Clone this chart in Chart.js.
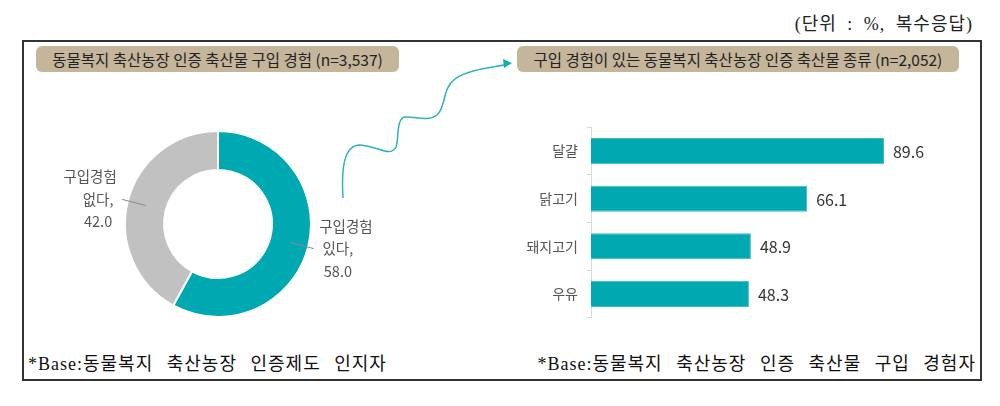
<!DOCTYPE html>
<html>
<head>
<meta charset="utf-8">
<script src="https://cdn.jsdelivr.net/npm/chart.js@4"></script>
<style>
  body { margin: 0; width: 1000px; height: 406px; background: #fff; position: relative; overflow: hidden;
         font-family: "Noto Sans CJK KR", "Noto Sans", sans-serif; }
  .frame { position: absolute; left: 22px; top: 40px; width: 960px; height: 341px; box-sizing: border-box; border: 2px solid #333; }
  .tag { position: absolute; top: 46px; height: 26px; line-height: 26px; background: #c4b59b; border-radius: 6px;
         color: #222; font-size: 15.5px; text-align: center; white-space: nowrap; }
  .unit { position: absolute; right: 27px; top: 9px; font-family: "Liberation Serif", "Noto Sans CJK KR", serif; font-size: 18px; color: #222; word-spacing: 5px; letter-spacing: 1px; }
  .base { position: absolute; top: 349px; font-family: "Liberation Serif", "Noto Sans CJK KR", serif; font-size: 18px; color: #111; word-spacing: 8px; letter-spacing: 1px; white-space: nowrap; }
  canvas { position: absolute; }
  svg { position: absolute; left: 0; top: 0; }
</style>
</head>
<body>
<div class="unit">(단위 : %, 복수응답)</div>
<div class="frame"></div>
<div class="tag" style="left:36px;width:363px;">동물복지 축산농장 인증 축산물 구입 경험 (n=3,537)</div>
<div class="tag" style="left:517px;width:442px;">구입 경험이 있는 동물복지 축산농장 인증 축산물 종류 (n=2,052)</div>
<svg width="1000" height="406">
  <path d="M343,198 C341,165 345,145 360,145 C378,146 390,158 396,147 C399,140 396,118 405,117 C415,116 428,122 437,115 C446,108 442,88 455,79 C468,70 488,68 504,65" fill="none" stroke="#2fb3ba" stroke-width="1.5"/>
  <path d="M512,63 L503,59 L504,68 Z" fill="#1aaab2"/>
</svg>
<canvas id="pie" style="left:30px;top:110px;" width="440" height="230"></canvas>
<canvas id="bar" style="left:500px;top:110px;" width="480" height="225"></canvas>
<div class="base" style="left:28px;">*Base:동물복지 축산농장 인증제도 인지자</div>
<div class="base" style="right:24px;">*Base:동물복지 축산농장 인증 축산물 구입 경험자</div>
<script>
const pieLabels = [["구입경험", "있다,"], ["구입경험", "없다,"]];
const pieValues = [58.0, 42.0];
const pieColors = ["#00a9b1", "#c1c1c1"];

const barLabels = ["달걀", "닭고기", "돼지고기", "우유"];
const barValues = [89.6, 66.1, 48.9, 48.3];

const FONT = '"Noto Sans CJK KR", "Noto Sans", sans-serif';

// leader lines + labels for doughnut
const pieLabelPlugin = {
  id: "pieLabels",
  afterDatasetsDraw(chart) {
    const ctx = chart.ctx;
    const meta = chart.getDatasetMeta(0);
    ctx.save();
    ctx.font = "14.5px " + FONT;
    ctx.fillStyle = "#555";
    ctx.strokeStyle = "#8a8a8a";
    ctx.lineWidth = 1;
    meta.data.forEach((arc, i) => {
      const mid = (arc.startAngle + arc.endAngle) / 2;
      const cx = arc.x, cy = arc.y;
      const r1 = arc.outerRadius * 0.8, r2 = arc.outerRadius + 6;
      const x1 = cx + Math.cos(mid) * r1, y1 = cy + Math.sin(mid) * r1;
      const x2 = cx + Math.cos(mid) * r2, y2 = cy + Math.sin(mid) * r2;
      ctx.beginPath();
      ctx.moveTo(x1, y1);
      ctx.lineTo(x2, y2);
      ctx.stroke();
      const dir = Math.cos(mid) > 0 ? 1 : -1;
      const lines = pieLabels[i].concat([pieValues[i].toFixed(1)]);
      ctx.textBaseline = "middle";
      ctx.textAlign = "center";
      lines.forEach((t, k) => {
        const y = y2 + (k - 1) * 22.5;
        ctx.fillText(t, x2 + dir * (k === 0 ? 32 : 24), y);
      });
    });
    ctx.restore();
  }
};

new Chart(document.getElementById("pie"), {
  type: "doughnut",
  data: {
    labels: pieLabels.map(l => l.join(" ")),
    datasets: [{ data: pieValues, backgroundColor: pieColors, borderColor: "#fff", borderWidth: 2 }]
  },
  options: {
    responsive: false,
    animation: false,
    cutout: "58%",
    layout: { padding: { left: 94, right: 158, top: 20, bottom: 22 } },
    plugins: { legend: { display: false }, tooltip: { enabled: false } }
  },
  plugins: [pieLabelPlugin]
});

// value labels at bar ends
const barValuePlugin = {
  id: "barValues",
  afterDatasetsDraw(chart) {
    const ctx = chart.ctx;
    ctx.save();
    ctx.font = "16px " + FONT;
    ctx.fillStyle = "#333";
    ctx.textAlign = "left";
    ctx.textBaseline = "middle";
    chart.getDatasetMeta(0).data.forEach((bar, i) => {
      ctx.fillText(barValues[i].toFixed(1), bar.x + 9, bar.y + 1);
    });
    ctx.restore();
  }
};

new Chart(document.getElementById("bar"), {
  type: "bar",
  data: {
    labels: barLabels,
    datasets: [{ data: barValues, backgroundColor: "#00a9b1", borderColor: "#3dbcc2", borderWidth: 1,
                 categoryPercentage: 1, barPercentage: 0.55 }]
  },
  options: {
    indexAxis: "y",
    responsive: false,
    animation: false,
    layout: { padding: { left: 0, right: 62, top: 7, bottom: 15 } },
    scales: {
      x: { display: false, min: 0, max: 100 },
      y: {
        afterFit(scale) { scale.width = 91; },
        grid: { drawOnChartArea: false, tickLength: 4, color: "#d9d9d9", offset: true },
        border: { color: "#d9d9d9" },
        ticks: { color: "#555", padding: 9, font: { family: FONT, size: 14 } }
      }
    },
    plugins: { legend: { display: false }, tooltip: { enabled: false } }
  },
  plugins: [barValuePlugin]
});
</script>
</body>
</html>
